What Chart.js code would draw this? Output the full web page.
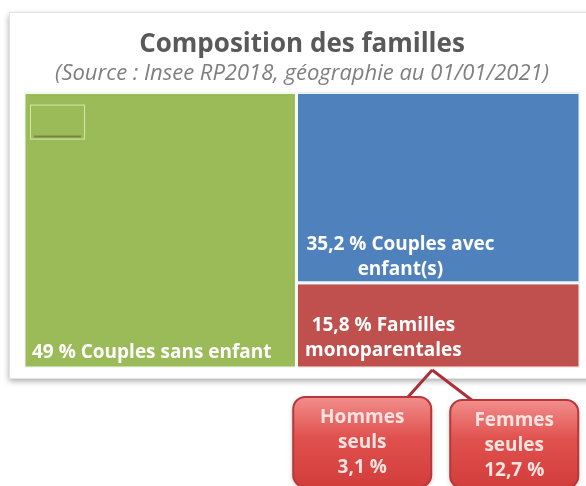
<!DOCTYPE html>
<html>
<head>
<meta charset="utf-8">
<script src="https://cdn.jsdelivr.net/npm/chart.js@4/dist/chart.umd.min.js"></script>
<style>
  html, body { margin: 0; padding: 0; background: #fff; }
  #wrap { position: relative; width: 586px; height: 486px; }
</style>
</head>
<body>
<div id="wrap"><canvas id="treemap" width="586" height="486"></canvas></div>
<script>
// ===== DATA =====
const categories = ['Couples sans enfant', 'Couples avec enfant(s)', 'Familles monoparentales'];
const shares = [49, 35.2, 15.8];
const labelLines = [['49 % Couples sans enfant'], ['35,2 % Couples avec', 'enfant(s)'], ['15,8 % Familles', 'monoparentales']];
const subCategories = ['Hommes seuls', 'Femmes seules'];
const subShares = [3.1, 12.7];
const subLines = [['Hommes', 'seuls', '3,1 %'], ['Femmes', 'seules', '12,7 %']];
const colors = ['#9bbb59', '#4f81bd', '#c0504d'];

const FONT = '"Open Sans", sans-serif';

// ===== TREEMAP LAYOUT (data space, 0..100 on both axes) =====
// first column : biggest category, full height ; second column : the two others stacked
const rightTotal = shares[1] + shares[2];
const rects = [
  { x0: 0, x1: shares[0], y0: 0, y1: 100 },
  { x0: shares[0], x1: 100, y0: 100 * shares[2] / rightTotal, y1: 100 },
  { x0: shares[0], x1: 100, y0: 0, y1: 100 * shares[2] / rightTotal }
];

function corners(r) {
  return [
    { x: r.x0, y: r.y0 }, { x: r.x1, y: r.y0 },
    { x: r.x1, y: r.y1 }, { x: r.x0, y: r.y1 }, { x: r.x0, y: r.y0 }
  ];
}

// panel behind the chart
const panelPlugin = {
  id: 'panel',
  beforeDraw(chart) {
    const ctx = chart.ctx;
    ctx.save();
    ctx.fillStyle = '#fff';
    ctx.fillRect(0, 0, chart.width, chart.height);
    ctx.shadowColor = 'rgba(0,0,0,0.35)';
    ctx.shadowBlur = 6;
    ctx.shadowOffsetY = 3;
    ctx.fillStyle = '#fff';
    ctx.fillRect(9, 12, 600, 366);
    ctx.restore();
    ctx.save();
    ctx.strokeStyle = '#e4e4e4';
    ctx.strokeRect(9.5, 12.5, 600, 366);
    ctx.restore();
  }
};

// labels inside rectangles + callouts for the single parents
const labelPlugin = {
  id: 'labels',
  afterDatasetsDraw(chart) {
    const { ctx, scales: { x, y } } = chart;
    ctx.save();
    ctx.fillStyle = '#fff';
    ctx.font = 'bold 19px ' + FONT;
    ctx.textBaseline = 'alphabetic';

    // leftover legend box in the green area
    ctx.strokeStyle = 'rgba(230,240,190,0.8)';
    ctx.lineWidth = 1;
    ctx.strokeRect(x.getPixelForValue(0) + 6.5, y.getPixelForValue(100) + 12.5, 54, 34);
    ctx.strokeStyle = 'rgba(110,120,60,0.8)';
    ctx.lineWidth = 2;
    ctx.beginPath();
    ctx.moveTo(x.getPixelForValue(0) + 10, y.getPixelForValue(100) + 44);
    ctx.lineTo(x.getPixelForValue(0) + 57, y.getPixelForValue(100) + 44);
    ctx.stroke();

    // green : bottom left
    ctx.textAlign = 'left';
    ctx.fillText(labelLines[0][0], x.getPixelForValue(rects[0].x0) + 8, y.getPixelForValue(rects[0].y0) - 10);

    // blue : centered block at bottom
    ctx.textAlign = 'center';
    const bx = x.getPixelForValue(rects[1].x0) + 104;
    const bBottom = y.getPixelForValue(rects[1].y0);
    ctx.fillText(labelLines[1][0], bx, bBottom - 33);
    ctx.fillText(labelLines[1][1], bx, bBottom - 8);

    // red
    const rx = x.getPixelForValue(rects[2].x0) + 87;
    const rTop = y.getPixelForValue(rects[2].y1);
    ctx.fillText(labelLines[2][0], rx, rTop + 48);
    ctx.fillText(labelLines[2][1], rx, rTop + 73);
    ctx.restore();
  },
  afterDraw(chart) {
    const { ctx, scales: { x, y } } = chart;
    const apexX = x.getPixelForValue((rects[2].x0 + rects[2].x1) / 2) - 6;
    const apexY = y.getPixelForValue(0) + 2;
    const boxes = [
      { left: apexX - 139, top: 397, w: 138, h: 90 },
      { left: apexX + 18, top: 400, w: 128, h: 88 }
    ];
    const ends = [[apexX - 26, 399], [apexX + 42, 402]];

    ctx.save();
    ctx.strokeStyle = '#a8303a';
    ctx.lineWidth = 3;
    ends.forEach(e => {
      ctx.beginPath();
      ctx.moveTo(apexX, apexY);
      ctx.lineTo(e[0], e[1]);
      ctx.stroke();
    });
    ctx.restore();

    boxes.forEach((b, i) => {
      ctx.save();
      ctx.shadowColor = 'rgba(0,0,0,0.3)';
      ctx.shadowBlur = 5;
      ctx.shadowOffsetY = 2;
      const g = ctx.createLinearGradient(0, b.top, 0, b.top + b.h);
      g.addColorStop(0, '#f28e8b');
      g.addColorStop(0.45, '#e0514e');
      g.addColorStop(1, '#d23d3a');
      ctx.fillStyle = g;
      ctx.beginPath();
      ctx.roundRect(b.left, b.top, b.w, b.h, 12);
      ctx.fill();
      ctx.shadowColor = 'transparent';
      ctx.strokeStyle = '#b7373a';
      ctx.lineWidth = 2;
      ctx.stroke();
      ctx.fillStyle = '#fde3e1';
      ctx.font = 'bold 19px ' + FONT;
      ctx.textAlign = 'center';
      const cx = b.left + b.w / 2;
      subLines[i].forEach((t, k) => ctx.fillText(t, cx, b.top + 26 + k * 25));
      ctx.restore();
    });
  }
};

new Chart(document.getElementById('treemap'), {
  type: 'line',
  data: {
    datasets: categories.map((c, i) => ({
      label: c,
      data: corners(rects[i]),
      backgroundColor: colors[i],
      borderColor: 'rgba(255,255,255,0.9)',
      borderWidth: 3,
      fill: 'shape',
      pointRadius: 0,
      tension: 0
    }))
  },
  options: {
    responsive: false,
    animation: false,
    layout: { padding: { left: 24, right: 6, top: 0, bottom: 118 } },
    scales: {
      x: { type: 'linear', min: 0, max: 100, display: false },
      y: { type: 'linear', min: 0, max: 100, display: false }
    },
    plugins: {
      legend: { display: false },
      tooltip: { enabled: false },
      title: {
        display: true,
        text: 'Composition des familles',
        color: '#595959',
        font: { family: FONT, size: 26, weight: 'bold' },
        padding: { top: 29, bottom: 0 }
      },
      subtitle: {
        display: true,
        text: '(Source : Insee RP2018, géographie au 01/01/2021)',
        color: '#7f7f7f',
        font: { family: FONT, size: 22, style: 'italic' },
        padding: { top: 0, bottom: 6 }
      }
    }
  },
  plugins: [panelPlugin, labelPlugin]
});
</script>
</body>
</html>
